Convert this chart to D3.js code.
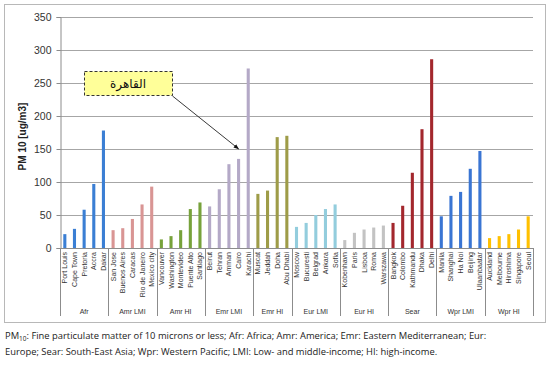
<!DOCTYPE html>
<html><head><meta charset="utf-8">
<script src="https://cdn.jsdelivr.net/npm/d3@7"></script>
<style>body{margin:0;background:#fff}svg{display:block}</style>
</head><body>
<svg id="c" width="550" height="369"></svg>
<script>
const groups = ["Afr","Amr LMI","Amr HI","Emr LMI","Emr HI","Eur LMI","Eur HI","Sear","Wpr LMI","Wpr HI"];
const groupColors = ["#3b7fd4","#d99594","#77a23b","#b4a9c7","#9e9c48","#93cddd","#c3c3c3","#a3272d","#3a75d3","#ffc000"];
const cities = [
 ["Port Louis","Cape Town","Pretoria","Accra","Dakar"],
 ["San Jose","Buenos Aires","Caracas","Rio de Janeiro","Mexico city"],
 ["Vancouver","Washington","Montevideo","Puente Alto","Santiago"],
 ["Beirut","Tehran","Amman","Cairo","Karachi"],
 ["Muscat","Jeddah","Doha","Abu Dhabi"],
 ["Moscow","Bucuresti","Belgrad","Ankara","Sofia"],
 ["Kobenhavn","Paris","Lisboa","Roma","Warszawa"],
 ["Bangkok","Colombo","Kathmandu","Dhaka","Delhi"],
 ["Manila","Shanghai","Ha Noi","Beijing","Ulaanbaatar"],
 ["Auckland","Melbourne","Hiroshima","Singapore","Seoul"]
];
const values = [
 [21,29,58,97,178],
 [27,30,44,66,93],
 [13,18,27,59,69],
 [63,89,127,135,272],
 [82,87,168,170],
 [32,38,50,59,66],
 [12,23,28,31,34],
 [38,64,114,180,286],
 [48,79,85,120,147],
 [15,18,21,28,48]
];
const yTicks = [0,50,100,150,200,250,300,350];
const calloutText = "القاهرة";
const calloutTarget = "Cairo";

const rows = [];
groups.forEach((g,gi)=>cities[gi].forEach((c,ci)=>rows.push({group:g,gi,city:c,value:values[gi][ci]})));

const svg = d3.select("#c");
const L=60,R=533,T=17,B=248;
const x = d3.scaleBand().domain(rows.map(d=>d.city)).range([L,R]).paddingInner(0.68).paddingOuter(0.34);
const y = d3.scaleLinear().domain([0,350]).range([B,T]);
const font = "'Liberation Sans', Arial, sans-serif";

// outer border
svg.append("rect").attr("x",4.5).attr("y",4.5).attr("width",541).attr("height",318)
  .attr("fill","none").attr("stroke","#b8b8b8").attr("stroke-width",1);

// grid
svg.append("g").selectAll("line").data(yTicks.filter(t=>t>0)).join("line")
  .attr("x1",L).attr("x2",R).attr("y1",d=>Math.round(y(d))+0.5).attr("y2",d=>Math.round(y(d))+0.5)
  .attr("stroke","#a6a6a6").attr("stroke-width",1);

// y axis
const ya = svg.append("g").attr("transform",`translate(${L+0.5},0)`)
  .call(d3.axisLeft(y).tickValues(yTicks).tickSize(4).tickPadding(5));
ya.select(".domain").attr("stroke","#8c8c8c");
ya.selectAll(".tick line").attr("stroke","#8c8c8c");
ya.selectAll("text").attr("font-family",font).attr("font-size",10.5).attr("fill","#333");

svg.append("text").attr("transform",`translate(26,${(T+B)/2+4}) rotate(-90)`)
  .attr("text-anchor","middle").attr("font-family",font).attr("font-size",10).attr("font-weight","bold")
  .attr("fill","#222").text("PM 10 [ug/m3]");

// bars
svg.append("g").selectAll("rect").data(rows).join("rect")
  .attr("x",d=>x(d.city)).attr("width",x.bandwidth())
  .attr("y",d=>y(d.value)).attr("height",d=>y(0)-y(d.value))
  .attr("fill",d=>groupColors[d.gi]);

// x axis baseline
svg.append("line").attr("x1",L).attr("x2",R).attr("y1",B+0.5).attr("y2",B+0.5).attr("stroke","#8c8c8c");

// city labels
svg.append("g").selectAll("text").data(rows).join("text")
  .attr("transform",d=>`translate(${x(d.city)+x.bandwidth()/2+2.5},${B+4}) rotate(-90)`)
  .attr("text-anchor","end").attr("font-family",font).attr("font-size",7).attr("fill","#333")
  .text(d=>d.city);

// group separators & labels
const step = x.step();
let idx=0;
const seps=[L];
const gcent=[];
groups.forEach((g,gi)=>{
  const first=rows[idx].city; idx+=cities[gi].length; const last=rows[idx-1].city;
  const x0 = x(first)-x.paddingInner()*step/2;
  const x1 = x(last)+x.bandwidth()+x.paddingInner()*step/2;
  seps.push(gi===groups.length-1?R:x1);
  gcent.push(((gi===0?L:x0)+(gi===groups.length-1?R:x1))/2);
});
svg.append("g").selectAll("line").data(seps).join("line")
  .attr("x1",d=>Math.round(d)+0.5).attr("x2",d=>Math.round(d)+0.5).attr("y1",B).attr("y2",316)
  .attr("stroke","#8c8c8c");
svg.append("g").selectAll("text").data(groups).join("text")
  .attr("x",(d,i)=>gcent[i]).attr("y",314).attr("text-anchor","middle")
  .attr("font-family",font).attr("font-size",7).attr("fill","#333").text(d=>d);

// callout
const defs = svg.append("defs");
defs.append("marker").attr("id","ah").attr("viewBox","0 0 10 10").attr("refX",9).attr("refY",5)
  .attr("markerWidth",6).attr("markerHeight",6).attr("orient","auto")
  .append("path").attr("d","M0,1 L10,5 L0,9 z").attr("fill","#111");
const cRow = rows.find(d=>d.city===calloutTarget);
svg.append("rect").attr("x",84.5).attr("y",71.5).attr("width",88).attr("height",24)
  .attr("fill","#ffff99").attr("stroke","#333").attr("stroke-dasharray","3,2").attr("stroke-width",1);
svg.append("text").attr("x",128).attr("y",88).attr("text-anchor","middle")
  .attr("font-family","'DejaVu Sans', sans-serif").attr("font-size",12).attr("fill","#111").text(calloutText);
svg.append("line").attr("x1",172.5).attr("y1",96).attr("x2",x(cRow.city)+x.bandwidth()/2).attr("y2",y(cRow.value)-10)
  .attr("stroke","#222").attr("stroke-width",0.9).attr("marker-end","url(#ah)");

// footnote
const fn = svg.append("g").attr("font-family","'Open Sans', sans-serif").attr("font-size",9.4).attr("fill","#222");
const t1 = fn.append("text").attr("x",5).attr("y",339);
t1.append("tspan").text("PM");
t1.append("tspan").attr("font-size",6.5).attr("dy",2).text("10");
t1.append("tspan").attr("dy",-2).text(": Fine particulate matter of 10 microns or less; Afr: Africa;  Amr: America; Emr: Eastern Mediterranean; Eur:");
fn.append("text").attr("x",5).attr("y",355).text("Europe; Sear: South-East Asia; Wpr: Western Pacific; LMI: Low- and middle-income; HI: high-income.");
</script>
</body></html>
